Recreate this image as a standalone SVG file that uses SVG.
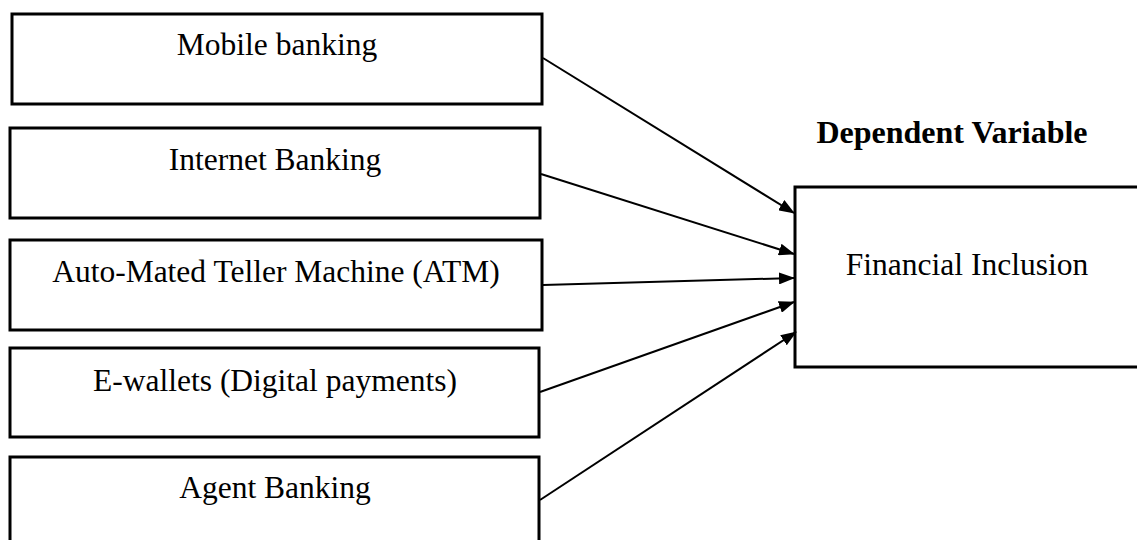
<svg xmlns="http://www.w3.org/2000/svg" width="1137" height="540" viewBox="0 0 1137 540">
  <style>
    .box { fill: #ffffff; stroke: #000000; stroke-width: 3; }
    .label { font-family: "Liberation Serif", "Times New Roman", serif; font-size: 31.5px; fill: #000000; text-anchor: middle; }
    .heading { font-family: "Liberation Serif", "Times New Roman", serif; font-size: 32px; font-weight: bold; fill: #000000; text-anchor: middle; }
    .link { fill: none; stroke: #000000; stroke-width: 2; marker-end: url(#arrow); }
  </style>
  <defs>
    <marker id="arrow" viewBox="0 0 16 12" refX="15" refY="6" markerWidth="16" markerHeight="12" markerUnits="userSpaceOnUse" orient="auto">
      <path d="M0,0 L16,6 L0,12 Z" fill="#000000"/>
    </marker>
  </defs>
  <rect width="1137" height="540" fill="#ffffff"/>

  <!-- independent variables -->
  <g id="mobile-banking">
    <rect class="box" x="12" y="14" width="530" height="90"/>
    <text class="label" x="277" y="55">Mobile banking</text>
  </g>
  <g id="internet-banking">
    <rect class="box" x="10" y="128" width="530" height="90"/>
    <text class="label" x="275" y="170">Internet Banking</text>
  </g>
  <g id="atm">
    <rect class="box" x="10" y="240" width="532" height="90"/>
    <text class="label" x="276" y="282">Auto-Mated Teller Machine (ATM)</text>
  </g>
  <g id="e-wallets">
    <rect class="box" x="10" y="348" width="529" height="89"/>
    <text class="label" x="275" y="391">E-wallets (Digital payments)</text>
  </g>
  <g id="agent-banking">
    <rect class="box" x="10" y="457" width="529" height="95"/>
    <text class="label" x="275" y="498">Agent Banking</text>
  </g>

  <!-- dependent variable -->
  <g id="dependent-variable">
    <text class="heading" x="952" y="143">Dependent Variable</text>
  </g>
  <g id="financial-inclusion">
    <rect class="box" x="795" y="187" width="360" height="180"/>
    <text class="label" x="967" y="275">Financial Inclusion</text>
  </g>

  <!-- connectors -->
  <g id="connectors">
    <line class="link" x1="543" y1="58" x2="794" y2="213"/>
    <line class="link" x1="541" y1="174" x2="794" y2="254"/>
    <line class="link" x1="543" y1="285" x2="794" y2="278"/>
    <line class="link" x1="540" y1="392" x2="794" y2="302"/>
    <line class="link" x1="540" y1="500" x2="796" y2="332"/>
  </g>
</svg>
